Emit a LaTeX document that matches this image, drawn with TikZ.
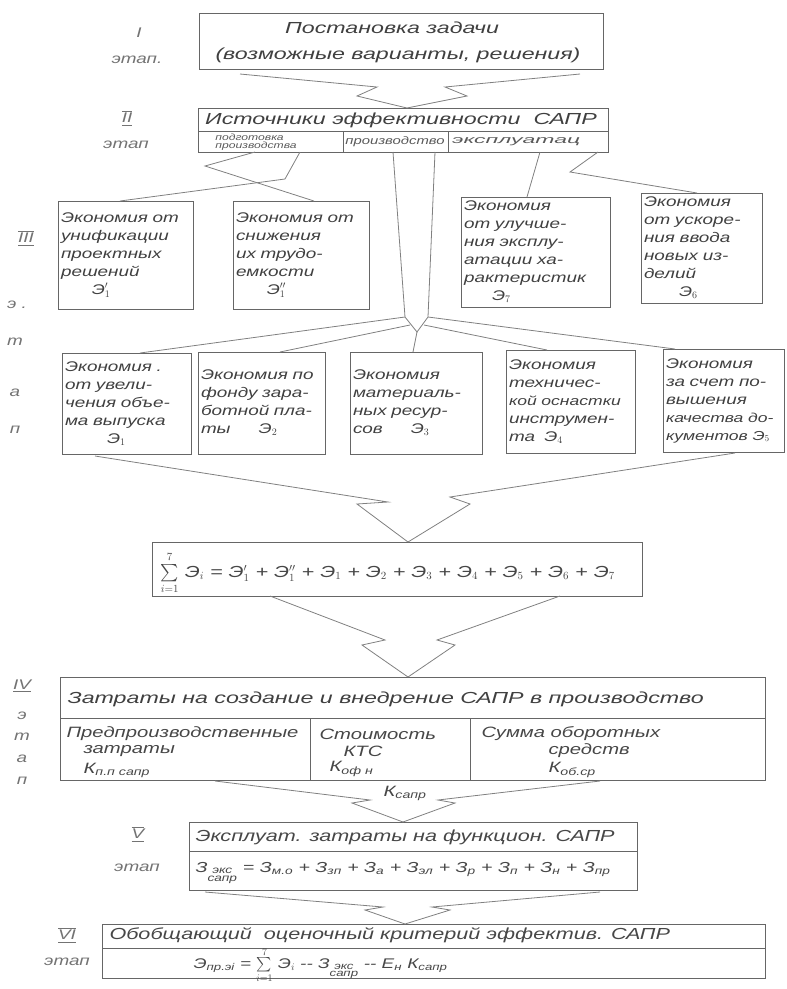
\documentclass[tikz,border=0pt]{standalone}
\usepackage{amsmath}
\usepackage{fontspec}
\setmainfont{Liberation Sans}
\newfontfamily\hand{Liberation Sans}[FakeStretch=1.35]
\newfontfamily\handw{Liberation Sans}[FakeStretch=1.45]
\begin{document}
\begin{tikzpicture}[x=1pt,y=-1pt,
 ink/.style={draw=black!60, line width=0.9pt},
 conn/.style={draw=black!50, line width=0.8pt, line join=miter},
 ebox/.style={ink, rectangle, inner xsep=2pt, inner ysep=3pt, align=left, text=black!75, font=\hand\itshape\fontsize{14}{18}\selectfont},
 big/.style={text=black!75, font=\handw\itshape\fontsize{16}{20}\selectfont},
 mid/.style={text=black!72, font=\hand\itshape\fontsize{15}{17}\selectfont},
 tiny/.style={text=black!65, font=\hand\itshape\fontsize{9}{8}\selectfont, align=left, inner sep=0pt},
 sub/.style={text=black!65, font=\hand\itshape\fontsize{11}{12}\selectfont, inner sep=0pt},
 stg/.style={text=black!55, font=\hand\itshape\fontsize{14}{16}\selectfont, inner sep=1pt},
]
\useasboundingbox (0,0) rectangle (787,989);

% ---------- Stage I ----------
\node[ink, minimum width=404, minimum height=56, inner sep=0] (s1) at (401,41) {};
\node[big] (s1a) at (392,28) {Постановка задачи};
\node[big] (s1b) at (398,55) {(возможные варианты, решения)};
\node[stg] (l1a) at (139,33) {I};
\node[stg] (l1b) at (137,60) {этап.};

% ---------- Stage II ----------
\node[ink, minimum width=410, minimum height=44, inner sep=0] (s2) at (403,130) {};
\draw[ink] (198,131) -- (608,131);
\draw[ink] (343,131) -- (343,152);
\draw[ink] (448,131) -- (448,152);
\node[big] (s2a) at (401,120) {Источники\ эффективности\ \ САПР};
\node[tiny] (s2b) at (256,142) {подготовка\\производства};
\node[sub] (s2c) at (395,142) {производство};
\node[sub, anchor=west] (s2d) at (452,142) {\scalebox{1.55}[1]{эксплуатац}};
\node[stg] (l2a) at (127,118) {$\overline{\underline{\text{II}}}$};
\node[stg] (l2b) at (126,145) {этап};

% I -> II
\coordinate (a1s) at (240,74);
\coordinate (a1e) at (580,74);
\coordinate (a1t) at (407,108);
\draw[conn] (a1s) -- (377,87) -- (357,96) -- (a1t) -- (467,96) -- (445,87) -- (a1e);

% ---------- Stage III, row 1 ----------
\node[ebox, minimum width=135, minimum height=108, text width=129] (bA) at (125.5,255)
 {Экономия от\\унификации\\проектных\\решений\\\hspace*{2.2em}Э$'_1$};
\node[ebox, minimum width=136, minimum height=108, text width=130] (bB) at (301,255)
 {Экономия от\\снижения\\их трудо-\\емкости\\\hspace*{2.2em}Э$''_1$};
\node[ebox, minimum width=149, minimum height=110, text width=143] (bC) at (535.5,252)
 {Экономия\\от улучше-\\ния эксплу-\\атации ха-\\рактеристик\\\hspace*{2em}Э$_7$};
\node[ebox, minimum width=121, minimum height=110, text width=115] (bD) at (701.5,248)
 {Экономия\\от ускоре-\\ния ввода\\новых из-\\делий\\\hspace*{2.5em}Э$_6$};

\node[stg] (l3a) at (26,238) {$\overline{\underline{\text{III}}}$};
\node[stg] (l3b) at (17,305) {э .};
\node[stg] (l3c) at (15,342) {т};
\node[stg] (l3d) at (15,393) {а};
\node[stg] (l3e) at (15,430) {п};

% II -> A, B
\coordinate (p1) at (300,152);
\coordinate (p2) at (255,152);
\coordinate (tA) at (120,201);
\coordinate (tB) at (314,201);
\draw[conn] (p1) -- (285,179) -- (tA);
\draw[conn] (p2) -- (205,166) -- (tB);
% II -> C, D
\coordinate (p3) at (540,152);
\coordinate (p4) at (598,152);
\coordinate (tC) at (527,197);
\coordinate (tD) at (697,193);
\draw[conn] (p3) -- (tC);
\draw[conn] (p4) -- (570,172) -- (tD);

% ---------- Stage III, row 2 ----------
\node[ebox, minimum width=129, minimum height=101, text width=123] (bE) at (126.5,403.5)
 {Экономия .\\от увели-\\чения объе-\\ма выпуска\\\hspace*{3em}Э$_1$};
\node[ebox, minimum width=127, minimum height=102, text width=121] (bF) at (261.5,403)
 {Экономия по\\фонду зара-\\ботной пла-\\ты\hspace*{2em}Э$_2$};
\node[ebox, minimum width=132, minimum height=102, text width=126] (bG) at (416,403)
 {Экономия\\материаль-\\ных ресур-\\сов\hspace*{2em}Э$_3$};
\node[ebox, minimum width=129, minimum height=103, text width=123] (bH) at (570.5,401.5)
 {Экономия\\техничес-\\{\fontsize{13}{18}\selectfont кой оснастки}\\инструмен-\\та\ \ Э$_4$};
\node[ebox, minimum width=121, minimum height=103, text width=115] (bI) at (723.5,400.5)
 {Экономия\\за счет по-\\вышения\\{\fontsize{13}{18}\selectfont качества до-}\\{\fontsize{13}{18}\selectfont кументов Э$_5$}};

% production fan
\coordinate (q1) at (393,152);
\coordinate (q2) at (435,152);
\coordinate (j1) at (405,317);
\coordinate (j2) at (428,317);
\coordinate (j0) at (417,332);
\coordinate (jL) at (410,325);
\coordinate (jR) at (424,325);
\coordinate (tE) at (140,353);
\coordinate (tF) at (280,352);
\coordinate (tG) at (413,352);
\coordinate (tH) at (547,350);
\coordinate (tI) at (675,349);
\draw[conn] (q1) -- (j1) -- (j0) -- (j2) -- (q2);
\draw[conn] (j1) -- (tE);
\draw[conn] (jL) -- (tF);
\draw[conn] (j0) -- (tG);
\draw[conn] (jR) -- (tH);
\draw[conn] (j2) -- (tI);

% ---------- Sum ----------
\node[ink, minimum width=490, minimum height=54, inner sep=0] (sum) at (397,569) {};
\node[mid, anchor=west, font=\hand\itshape\fontsize{16}{19}\selectfont] (sumt) at (157,573)
 {$\sum\limits_{i=1}^{7}$ Э$_i$ = Э$'_1$ + Э$''_1$ + Э$_1$ + Э$_2$ + Э$_3$ + Э$_4$ + Э$_5$ + Э$_6$ + Э$_7$};
\coordinate (r1) at (95,456);
\coordinate (r2) at (735,453);
\coordinate (rt) at (408,542);
\draw[conn] (r1) -- (388,502) -- (357,504) -- (rt) -- (470,504) -- (450,497) -- (r2);

% ---------- Stage IV ----------
\node[ink, minimum width=705, minimum height=103, inner sep=0] (s4) at (412.5,728.5) {};
\draw[ink] (60,718) -- (765,718);
\draw[ink] (310,718) -- (310,780);
\draw[ink] (470,718) -- (470,780);
\node[big, anchor=west] (s4a) at (64,699) {Затраты на создание и внедрение САПР в производство};
\node[mid, anchor=west] (c1a) at (63,734) {Предпроизводственные};
\node[mid, anchor=west] (c1b) at (80,751) {затраты};
\node[mid, anchor=west] (c1c) at (80,770) {К$_{\text{п.п сапр}}$};
\node[mid, anchor=west] (c2a) at (316,734) {Стоимость};
\node[mid, anchor=west] (c2b) at (340,751) {КТС};
\node[mid, anchor=west] (c2c) at (326,769) {К$_{\text{оф н}}$};
\node[mid, anchor=west] (c3a) at (478,734) {Сумма оборотных};
\node[mid, anchor=west] (c3b) at (545,751) {средств};
\node[mid, anchor=west] (c3c) at (545,770) {К$_{\text{об.ср}}$};

\node[stg] (l4a) at (22,686) {$\underline{\text{IV}}$};
\node[stg] (l4b) at (22,716) {э};
\node[stg] (l4c) at (22,737) {т};
\node[stg] (l4d) at (22,759) {а};
\node[stg] (l4e) at (22,781) {п};

\coordinate (u1) at (270,596);
\coordinate (u2) at (560,596);
\coordinate (ut) at (408,677);
\draw[conn] (u1) -- (385,640) -- (362,645) -- (ut) -- (455,645) -- (437,640) -- (u2);

% ---------- Stage V ----------
\node[ink, minimum width=448, minimum height=68, inner sep=0] (s5) at (413,856) {};
\draw[ink] (189,851) -- (637,851);
\node[mid, anchor=west, font=\hand\itshape\fontsize{16}{18}\selectfont] (s5a) at (192,837) {Эксплуат. затраты на функцион. САПР};
\node[mid, anchor=west, font=\hand\itshape\fontsize{14.5}{17}\selectfont] (s5b) at (192,873) {З$_{\substack{\text{экс}\\ \text{сапр}}}$ = З$_{\text{м.о}}$ + З$_{\text{зп}}$ + З$_{\text{а}}$ + З$_{\text{эл}}$ + З$_{\text{р}}$ + З$_{\text{п}}$ + З$_{\text{н}}$ + З$_{\text{пр}}$};
\node[stg] (l5a) at (138,834) {$\overline{\underline{\text{V}}}$};
\node[stg] (l5b) at (137,868) {этап};

\coordinate (v1) at (215,781);
\coordinate (v2) at (600,781);
\coordinate (vt) at (403,822);
\draw[conn] (v1) -- (370,800) -- (352,803) -- (vt) -- (455,803) -- (438,800) -- (v2);
\node[mid] (ksapr) at (405,793) {К$_{\text{сапр}}$};

% ---------- Stage VI ----------
\node[ink, minimum width=663, minimum height=54, inner sep=0] (s6) at (433.5,951) {};
\draw[ink] (102,948) -- (765,948);
\node[mid, anchor=west, font=\hand\itshape\fontsize{16}{18}\selectfont] (s6a) at (106,935) {Обобщающий\ \ оценочный критерий эффектив. САПР};
\node[mid, anchor=west, font=\hand\itshape\fontsize{14}{16}\selectfont] (s6b) at (190,965) {Э$_{\text{пр.эi}}$ = $\sum\limits_{i=1}^{7}$ Э$_i$ -- З$_{\substack{\text{экс}\\ \text{сапр}}}$ -- Е$_{\text{н}}$ К$_{\text{сапр}}$};
\node[stg] (l6a) at (67,935) {$\overline{\underline{\text{VI}}}$};
\node[stg] (l6b) at (67,962) {этап};

\coordinate (w1) at (205,892);
\coordinate (w2) at (600,892);
\coordinate (wt) at (405,924);
\draw[conn] (w1) -- (383,907) -- (365,910) -- (wt) -- (450,910) -- (432,907) -- (w2);
\end{tikzpicture}
\end{document}
